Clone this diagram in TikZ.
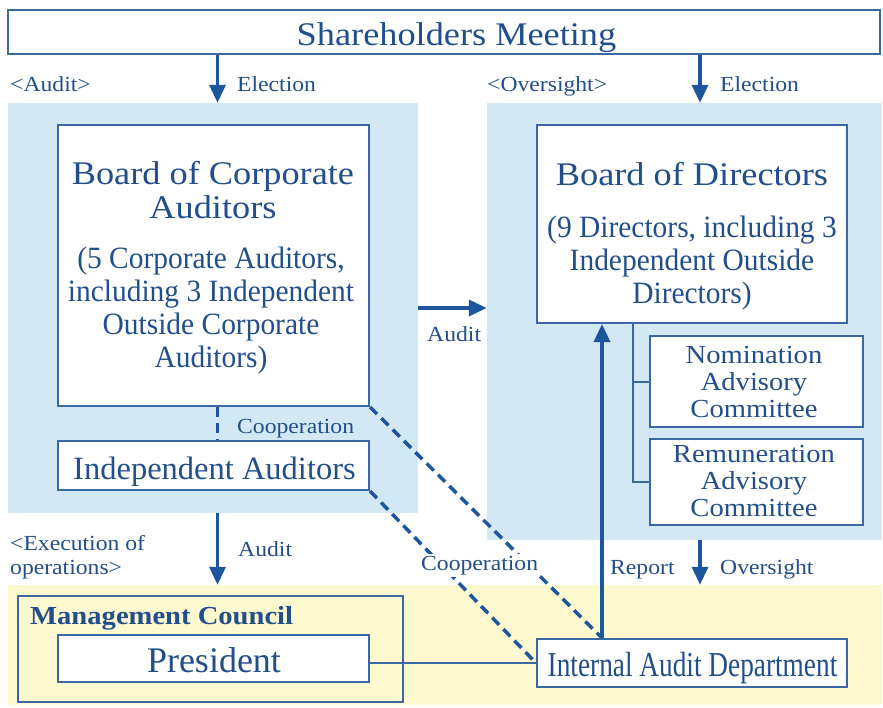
\documentclass[tikz,border=0pt]{standalone}
\usepackage{fontspec}
\setmainfont{Liberation Serif}
\newfontfamily\widefont[FakeStretch=1.1]{Liberation Serif}
\newfontfamily\notefont[FakeStretch=0.95]{Liberation Serif}
\newfontfamily\condfont[FakeStretch=0.78]{Liberation Serif}
\usetikzlibrary{arrows.meta}
\definecolor{tblue}{RGB}{33,78,140}
\definecolor{lblue}{RGB}{210,232,245}
\definecolor{lyellow}{RGB}{255,249,207}
\definecolor{eblue}{RGB}{58,104,164}
\definecolor{ablue}{RGB}{30,86,158}

\begin{document}
\begin{tikzpicture}[x=1pt, y=-1pt,
  region/.style={shape=rectangle, fill=#1, draw=none, inner sep=0},
  box/.style={shape=rectangle, draw=eblue, line width=2pt, fill=white, inner sep=0},
  lab/.style={font=\widefont\fontsize{21.5}{23.5}\selectfont, text=tblue, inner sep=0},
  title/.style={font=\widefont\fontsize{33}{34}\selectfont, text=tblue, inner sep=0, align=center},
  note/.style={font=\notefont\fontsize{31}{33}\selectfont, text=tblue, inner sep=0, align=center},
  cmte/.style={font=\widefont\fontsize{26}{27}\selectfont, text=tblue, inner sep=0, align=center},
  arr/.style={draw=ablue, line width=3.5pt, -{Triangle[width=16pt,length=18pt]}},
  dsh/.style={draw=ablue, line width=3.5pt, dash pattern=on 10pt off 6pt},
  link/.style={draw=eblue, line width=2pt}]

\useasboundingbox [fill=white] (0,0) rectangle (883,707);

\coordinate (lx) at (217.5,0);
\coordinate (rx) at (700,0);
\coordinate (px) at (602,0);
\coordinate (tx) at (633,0);
\coordinate (ay) at (0,308);

\node [region=lblue, minimum width=410pt, minimum height=410pt] (lb) at (213,308) {};
\node [region=lblue, minimum width=395pt, minimum height=437pt] (rb) at (684.5,321.5) {};
\node [region=lyellow, minimum width=874pt, minimum height=120pt] (yb) at (445,645) {};

\node [box, minimum width=872pt, minimum height=44pt] (sm) at (444,31.5) {};
\node [title, anchor=base] (smt) at (456.5,45) {Shareholders Meeting};

\node [box, minimum width=311pt, minimum height=281pt] (bca) at (213.5,265.5) {};
\node [title, anchor=north] (bcat) at (213,161.5) {Board of Corporate\\Auditors};
\node [note, anchor=north] (bcan) at (211,246.5) {(5 Corporate Auditors,\\including 3 Independent\\Outside Corporate\\Auditors)};

\node [box, minimum width=311pt, minimum height=49pt] (ia) at (213.5,465.5) {};
\node [text=tblue, inner sep=0, font=\fontsize{32.5}{34}\selectfont, anchor=base] (iat) at (214.5,479) {Independent Auditors};

\node [box, minimum width=310pt, minimum height=198pt] (bod) at (692,224) {};
\node [title, anchor=base] (bodt) at (692,185) {Board of Directors};
\node [note, anchor=north] (bodn) at (692,215.5) {(9 Directors, including 3\\Independent Outside\\Directors)};

\node [box, minimum width=213pt, minimum height=91pt] (nom) at (756.5,381.5) {};
\node [cmte, anchor=north] (nomt) at (754,346) {Nomination\\Advisory\\Committee};
\node [box, minimum width=213pt, minimum height=86pt] (rem) at (756.5,482) {};
\node [cmte, anchor=north] (remt) at (754,445) {Remuneration\\Advisory\\Committee};

\node [box, fill=lyellow, minimum width=385pt, minimum height=106pt] (mc) at (210.5,649) {};
\node [text=tblue, inner sep=0, font=\widefont\bfseries\fontsize{26}{28}\selectfont, anchor=base west] (mct) at (30,624) {Management Council};
\node [box, minimum width=311pt, minimum height=47pt] (pres) at (213.5,658.5) {};
\node [text=tblue, inner sep=0, font=\fontsize{36}{38}\selectfont, anchor=base] (prest) at (214,672) {President};

\node [box, minimum width=310pt, minimum height=48pt] (iad) at (692,663) {};
\node [text=tblue, inner sep=0, font=\condfont\fontsize{35}{37}\selectfont, anchor=base] (iadt) at (692.5,676) {Internal Audit Department};

\draw [arr] (sm.south -| lx) -- (lb.north -| lx);
\draw [arr] (sm.south -| rx) -- (rb.north -| rx);
\draw [arr] (lb.east |- ay) -- (rb.west |- ay);
\draw [arr] (lb.south -| lx) -- (yb.north -| lx);
\draw [arr] (rb.south -| rx) -- (yb.north -| rx);
\draw [arr] (iad.north -| px) -- (bod.south -| px);

\draw [dsh] (bca.south -| lx) -- (ia.north -| lx);
\draw [dsh] (bca.south east) -- (iad.north -| px);
\draw [dsh] (ia.south east) -- (iad.west);

\draw [link] (bod.south -| tx) |- (rem.west);
\draw [link] (nom.west -| tx) -- (nom.west);
\draw [link] (pres.east |- iad.west) -- (iad.west);

\node [lab, anchor=base west] (aud) at (10,91) {<Audit>};
\node [lab, anchor=base west] (el1) at (237,91) {Election};
\node [lab, anchor=base west] (ovs) at (487,91) {<Oversight>};
\node [lab, anchor=base west] (el2) at (720,91) {Election};
\node [lab, anchor=base west] (au1) at (427,341) {Audit};
\node [lab, anchor=base west] (co1) at (237,433) {Cooperation};
\node [lab, anchor=north west, align=left] (exe) at (10,535.3) {<Execution of\\operations>};
\node [lab, anchor=base west] (au2) at (238,556) {Audit};
\node [lab, anchor=base west, fill=white, inner sep=2pt] (co2) at (419,570) {Cooperation};
\node [lab, anchor=base west] (rep) at (610,574) {Report};
\node [lab, anchor=base west] (ovr) at (720,574) {Oversight};
\end{tikzpicture}
\end{document}
